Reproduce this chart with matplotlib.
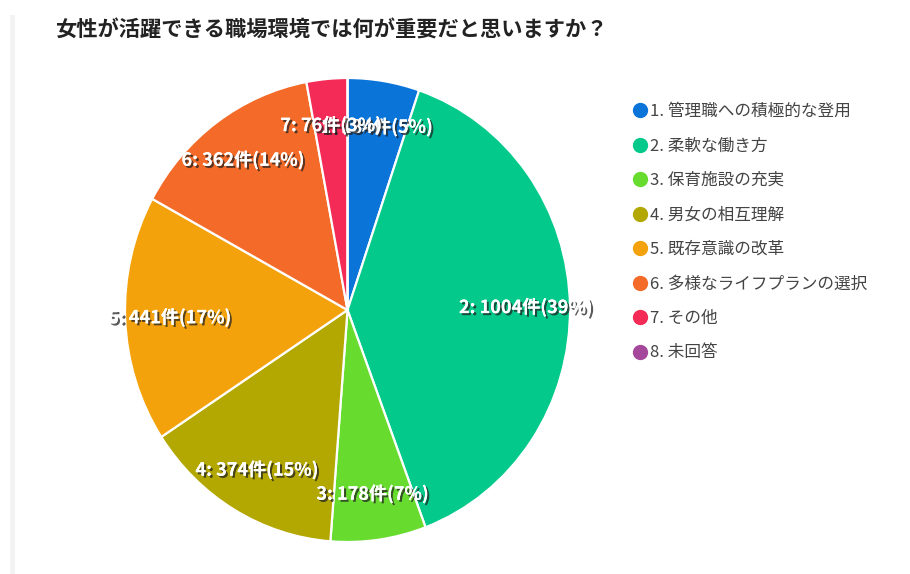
import matplotlib.pyplot as plt
import matplotlib.patheffects as pe
import numpy as np
from matplotlib.lines import Line2D
from matplotlib.patches import Rectangle

plt.rcParams["font.family"] = ["Noto Sans CJK JP", "DejaVu Sans"]

# -----------------------------------------------------------------------------
# Data
# -----------------------------------------------------------------------------

title = "女性が活躍できる職場環境では何が重要だと思いますか？"
categories = [
    "管理職への積極的な登用",
    "柔軟な働き方",
    "保育施設の充実",
    "男女の相互理解",
    "既存意識の改革",
    "多様なライフプランの選択",
    "その他",
    "未回答",
]
counts = [134, 1004, 178, 374, 441, 362, 76, 0]
colors = [
    "#0b74d9",
    "#03c98a",
    "#67dc2f",
    "#b3a702",
    "#f4a20b",
    "#f46a28",
    "#f32b56",
    "#a5489b",
]

total = sum(counts)

fig = plt.figure(figsize=(9.10, 5.74), dpi=100)
fig.patch.set_facecolor("white")

# thin grey card edge on the left
fig.patches.append(
    Rectangle((10 / 910, 0), 5 / 910, 1 - 15 / 574, transform=fig.transFigure,
              facecolor="#f3f3f3", edgecolor="none")
)

fig.text(55 / 910, 1 - 30 / 574, title, fontsize=15.3, fontweight="bold",
         color="#222222", va="center", ha="left")

# pie axes (reference pie is slightly taller than wide)
ax = fig.add_axes([125 / 910, 32 / 574, 445 / 910, 464 / 574])
wedges, _ = ax.pie(
    counts,
    colors=colors,
    startangle=90,
    counterclock=False,
    wedgeprops={"edgecolor": "white", "linewidth": 1.6},
)
ax.set_aspect("auto")
ax.set_xlim(-1, 1)
ax.set_ylim(-1, 1)
ax.axis("off")

shadow = [pe.withSimplePatchShadow(offset=(1.5, -1.5), shadow_rgbFace="#222222", alpha=0.75),
          pe.Normal()]

for i, (c, w) in enumerate(zip(counts, wedges)):
    if c == 0:
        continue
    mid = np.deg2rad((w.theta1 + w.theta2) / 2)
    x, y = 0.8 * np.cos(mid), 0.8 * np.sin(mid)
    pct = round(100 * c / total)
    ax.text(x, y, f"{i + 1}: {c}件({pct}%)", ha="center", va="center",
            fontsize=13, fontweight="bold", color="white", path_effects=shadow)

# legend
handles = [
    Line2D([], [], marker="o", linestyle="none", markersize=10,
           markerfacecolor=col, markeredgecolor=col)
    for col in colors
]
labels = [f"{i + 1}. {name}" for i, name in enumerate(categories)]
leg = fig.legend(
    handles, labels,
    loc="upper left",
    bbox_to_anchor=(632 / 910, 1 - 103 / 574),
    frameon=False,
    fontsize=12,
    labelspacing=1.05,
    handletextpad=0.1,
    handlelength=1.0,
    borderpad=0,
    borderaxespad=0,
)
for t in leg.get_texts():
    t.set_color("#444444")

fig.savefig("out.png", dpi=100)
